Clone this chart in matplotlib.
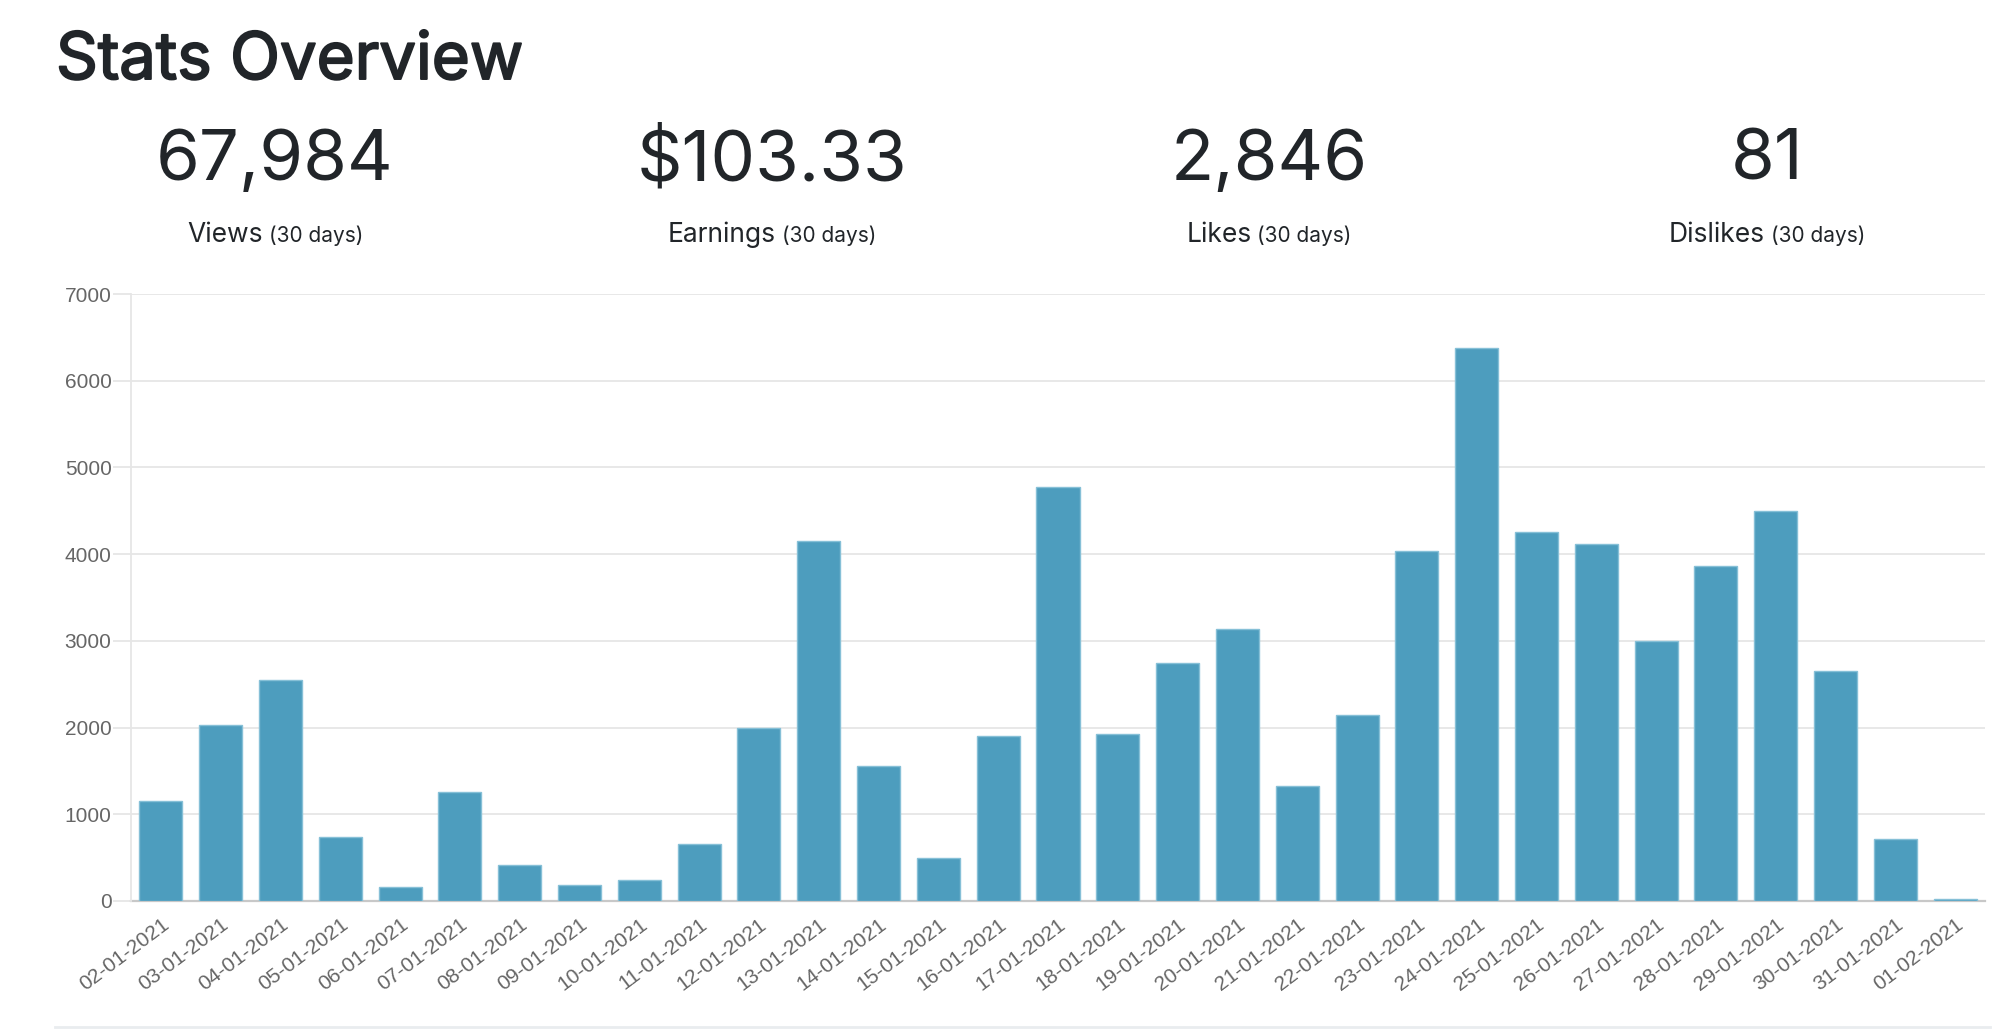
import matplotlib
matplotlib.use("Agg")
import matplotlib.pyplot as plt
import matplotlib.patheffects as pe
from matplotlib.lines import Line2D
from matplotlib.ticker import MultipleLocator

# daily views
dates = ["02-01-2021", "03-01-2021", "04-01-2021", "05-01-2021", "06-01-2021",
         "07-01-2021", "08-01-2021", "09-01-2021", "10-01-2021", "11-01-2021",
         "12-01-2021", "13-01-2021", "14-01-2021", "15-01-2021", "16-01-2021",
         "17-01-2021", "18-01-2021", "19-01-2021", "20-01-2021", "21-01-2021",
         "22-01-2021", "23-01-2021", "24-01-2021", "25-01-2021", "26-01-2021",
         "27-01-2021", "28-01-2021", "29-01-2021", "30-01-2021", "31-01-2021",
         "01-02-2021"]
views = [1150, 2030, 2550, 740, 160, 1260, 420, 190, 240, 660,
         1990, 4150, 1560, 500, 1900, 4780, 1930, 2740, 3140, 1330,
         2150, 4040, 6380, 4250, 4120, 3000, 3860, 4500, 2650, 710,
         25]

# header stats
stat_values = ["67,984", "$103.33", "2,846", "81"]
stat_names = ["Views", "Earnings", "Likes", "Dislikes"]
stat_period = "(30 days)"

W, H = 2000, 1032
fig = plt.figure(figsize=(W / 100, H / 100), dpi=100)


def px(x, y):
    """piksel -> figure koordinatı"""
    return x / W, 1 - y / H


dark = "#212529"
head_font = ["Inter", "DejaVu Sans"]
tick_font = ["Liberation Sans", "DejaVu Sans"]

# başlık biraz daha kalın görünsün diye ince kontur
fig.text(*px(56, 79), "Stats Overview", fontsize=47,
         family=head_font, color=dark, ha="left", va="baseline",
         path_effects=[pe.withStroke(linewidth=1.4, foreground=dark)])

col_x = [275, 772, 1269, 1767]
for cx, val in zip(col_x, stat_values):
    fig.text(*px(cx, 180), val, fontsize=51, family=head_font, color=dark,
             ha="center", va="baseline")

renderer = fig.canvas.get_renderer()
gap = 6
for cx, name in zip(col_x, stat_names):
    t1 = fig.text(0, 0, name, fontsize=19, family=head_font, color=dark,
                  ha="left", va="baseline")
    t2 = fig.text(0, 0, stat_period, fontsize=15, family=head_font,
                  color=dark, ha="left", va="baseline")
    w1 = t1.get_window_extent(renderer).width
    w2 = t2.get_window_extent(renderer).width
    left = cx - (w1 + gap + w2) / 2
    t1.set_position(px(left, 242))
    t2.set_position(px(left + w1 + gap, 242))

# chart
ax = fig.add_axes([131 / W, (H - 901) / H, (1985 - 131) / W, (901 - 294) / H])
x = range(len(views))
ax.bar(x, views, width=0.72, color="#4d9dbe", edgecolor="#86c0d7",
       linewidth=1, zorder=3)
ax.set_xlim(-0.5, len(views) - 0.5)
ax.set_ylim(0, 7000)
ax.yaxis.set_major_locator(MultipleLocator(1000))
ax.grid(axis="y", color="#e6e6e6", linewidth=1.3, zorder=0)
ax.set_axisbelow(True)

for s in ["top", "right"]:
    ax.spines[s].set_visible(False)
ax.spines["left"].set_color("#e6e6e6")
ax.spines["left"].set_linewidth(1.3)
ax.spines["bottom"].set_color("#c8c8c8")
ax.spines["bottom"].set_linewidth(1.6)
ax.spines["bottom"].set_zorder(2)

ax.tick_params(axis="y", length=13, width=1.3, color="#e6e6e6", pad=1,
               labelsize=15, labelcolor="#666666")
ax.tick_params(axis="x", length=0, pad=10, labelsize=15, labelcolor="#666666")
ax.set_xticks(list(x))
ax.set_xticklabels(dates, rotation=37, ha="right", va="top",
                   rotation_mode="anchor")
for lbl in ax.get_xticklabels() + ax.get_yticklabels():
    lbl.set_family(tick_font)

# alttaki ayırıcı çizgi
fig.add_artist(Line2D([55 / W, 1990 / W], [1 - 1027 / H, 1 - 1027 / H],
                      color="#e9ecef", linewidth=2))

fig.savefig("out.png", dpi=100, facecolor="white")
